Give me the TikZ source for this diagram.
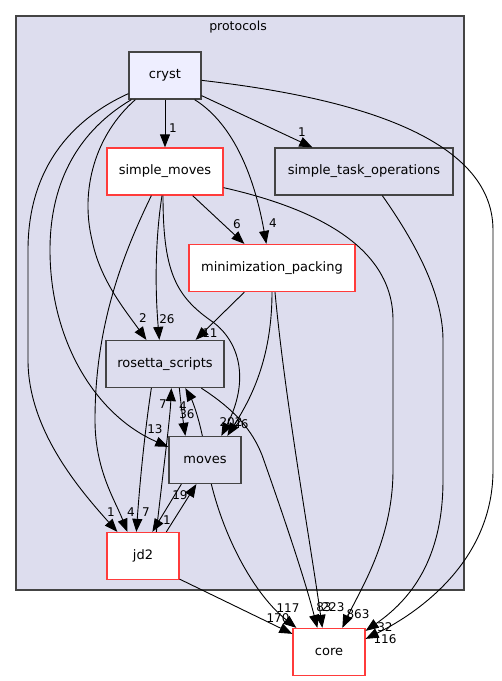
\documentclass[tikz,border=0pt]{standalone}
\usepackage{fontspec}
\setmainfont{DejaVu Sans}
\usetikzlibrary{arrows.meta}
\definecolor{clus}{HTML}{DDDDEE}
\definecolor{dkb}{HTML}{444444}
\definecolor{redb}{HTML}{FF3B3B}
\definecolor{cryf}{HTML}{EEEEFF}
\tikzset{
  box/.style={draw=dkb, line width=1.3pt, minimum height=47pt, inner sep=0pt, font=\fontsize{13}{15}\selectfont},
  redbox/.style={box, draw=redb, fill=white},
  clbox/.style={box, fill=clus},
  edge/.style={draw=black, line width=0.9pt, -{Triangle[length=13pt,width=10pt]}},
  lbl/.style={inner sep=0pt, font=\fontsize{12}{14}\selectfont}
}
\begin{document}
\begin{tikzpicture}[x=1pt,y=-1pt]
\useasboundingbox (0,0) rectangle (502,681);
\fill[white] (0,0) rectangle (502,681);
\draw[draw=dkb, fill=clus, line width=1.3pt] (16,16) rectangle (464,590);
\node[inner sep=0pt, font=\fontsize{12.5}{14}\selectfont] (cl) at (238,27) {protocols};

\node[box, fill=cryf, minimum width=72pt] (cryst) at (165,75.5) {cryst};
\node[redbox, minimum width=116pt] (sm) at (165,171.5) {simple\_moves};
\node[clbox, minimum width=178pt] (sto) at (364,171.5) {simple\_task\_operations};
\node[redbox, minimum width=166pt] (min) at (272,268) {minimization\_packing};
\node[clbox, minimum width=118pt] (ros) at (165,364) {rosetta\_scripts};
\node[clbox, minimum width=72pt] (mv) at (205,460) {moves};
\node[redbox, minimum width=72pt] (jd) at (143,556) {jd2};
\node[redbox, minimum width=72pt] (core) at (329,652) {core};

% cryst
\draw[edge] (cryst.south) -- (sm.north);
\draw[edge] ([yshift=4pt]cryst.south east) -- ([xshift=38pt]sto.north west);
\draw[edge] ([xshift=-7pt]cryst.south east) .. controls (235,125) and (255,180) .. ([xshift=78pt]min.north west);
\draw[edge] ([yshift=-29pt]cryst.north east) .. controls (330,95) and (493,130) .. (493,230) -- (493,470) .. controls (493,560) and (420,612) .. ([yshift=-11pt]core.north east);
\draw[edge] ([xshift=7pt]cryst.south west) .. controls (95,135) and (80,190) .. (92,240) .. controls (100,280) and (125,310) .. ([xshift=41pt]ros.north west);
\draw[edge] ([xshift=3pt]cryst.south west) .. controls (80,130) and (50,180) .. (50,250) .. controls (50,340) and (95,415) .. ([yshift=-11pt]mv.north west);
\draw[edge] ([yshift=6pt]cryst.south west) .. controls (70,120) and (28,170) .. (28,250) -- (28,360) .. controls (28,430) and (80,490) .. ([xshift=11pt]jd.north west);

% simple_moves
\draw[edge] ([xshift=-31pt]sm.south east) -- ([xshift=56pt]min.north west);
\draw[edge] ([xshift=-3pt]sm.south) .. controls (155,240) and (155,290) .. ([xshift=54pt]ros.north west);
\draw[edge] ([xshift=-2pt]sm.south) .. controls (163,270) and (175,295) .. (210,320) .. controls (240,340) and (250,380) .. ([xshift=53pt]mv.north west);
\draw[edge] ([xshift=45pt]sm.south west) .. controls (120,260) and (95,330) .. (95,420) .. controls (95,470) and (115,500) .. ([xshift=21pt]jd.north west);
\draw[edge] ([yshift=8pt]sm.south east) .. controls (300,205) and (393,240) .. (393,320) -- (393,470) .. controls (393,540) and (360,590) .. ([xshift=50pt]core.north west);

% simple_task_operations
\draw[edge] ([xshift=108pt]sto.south west) .. controls (410,235) and (443,290) .. (443,340) -- (443,480) .. controls (443,560) and (410,600) .. ([yshift=-3pt]core.north east);

% minimization_packing
\draw[edge] ([xshift=56pt]min.south west) -- ([xshift=-29pt]ros.north east);
\draw[edge] (min.south) .. controls (272,360) and (250,400) .. ([xshift=59pt]mv.north west);
\draw[edge] ([xshift=3pt]min.south) .. controls (285,400) and (310,540) .. ([xshift=30pt]core.north west);

% rosetta_scripts
\draw[edge] ([xshift=96pt]ros.south west) .. controls (235,410) and (252,430) .. (262,455) .. controls (285,520) and (305,580) .. ([xshift=25pt]core.north west);
\draw[edge] ([xshift=74pt]ros.south west) .. controls (181,405) and (183,420) .. ([xshift=17pt]mv.north west);
\draw[edge] ([xshift=46pt]ros.south west) .. controls (145,430) and (140,480) .. ([xshift=30pt]jd.north west);

% moves
\draw[edge] ([xshift=34pt]mv.north west) .. controls (198,415) and (192,400) .. ([xshift=80pt]ros.south west);
\draw[edge] ([xshift=13pt]mv.south west) -- ([xshift=46pt]jd.north west);
\draw[edge] ([xshift=43pt]mv.south west) .. controls (225,540) and (255,595) .. ([xshift=4pt]core.north west);

% jd2
\draw[edge] ([xshift=50pt]jd.north west) .. controls (162,480) and (170,420) .. ([xshift=66pt]ros.south west);
\draw[edge] ([xshift=60pt]jd.north west) -- ([xshift=28pt]mv.south west);
\draw[edge] ([yshift=1pt]jd.south east) -- ([yshift=-6pt]core.north west);

% labels
\node[lbl] (l1) at (173,128) {1};
\node[lbl] (l2) at (302,132) {1};
\node[lbl] (l3) at (273,223) {4};
\node[lbl] (l4) at (237,224) {6};
\node[lbl] (l5) at (143,318) {2};
\node[lbl] (l6) at (167,319) {26};
\node[lbl] (l7) at (210,333) {11};
\node[lbl] (l8) at (163,404) {7};
\node[lbl] (l9) at (183,406) {4};
\node[lbl] (l10) at (187,414) {36};
\node[lbl] (l11) at (155,429) {13};
\node[lbl] (l12) at (231,422) {202};
\node[lbl] (l13) at (241,424) {46};
\node[lbl] (l14) at (180,495) {19};
\node[lbl] (l15) at (111,512) {1};
\node[lbl] (l16) at (131,512) {4};
\node[lbl] (l17) at (146,512) {7};
\node[lbl] (l18) at (167,520) {1};
\node[lbl] (l19) at (288,608) {117};
\node[lbl] (l20) at (278,618) {170};
\node[lbl] (l21) at (324,607) {83};
\node[lbl] (l22) at (333,607) {223};
\node[lbl] (l23) at (358,614) {863};
\node[lbl] (l24) at (385,627) {32};
\node[lbl] (l25) at (385,639) {116};
\end{tikzpicture}
\end{document}
